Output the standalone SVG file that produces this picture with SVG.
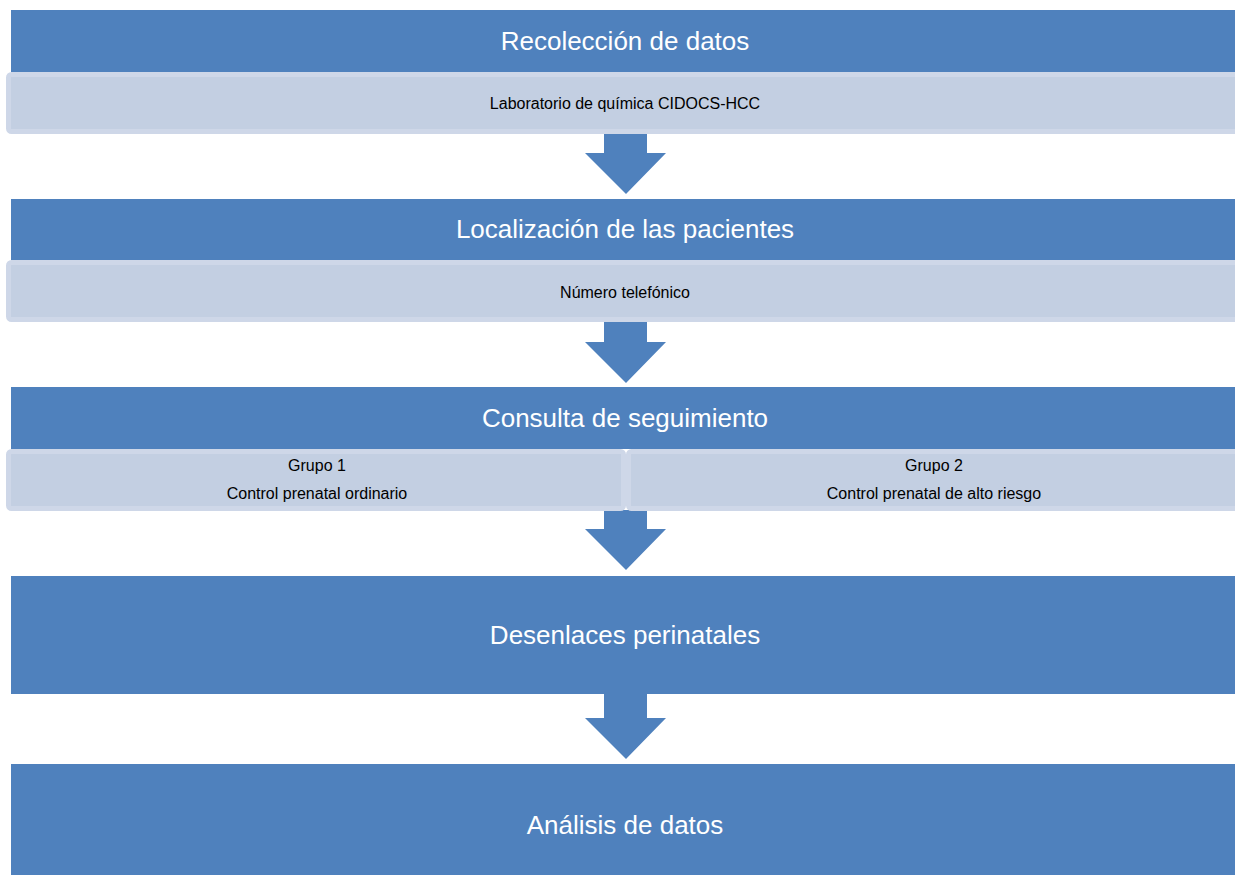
<svg xmlns="http://www.w3.org/2000/svg" width="1235" height="875" viewBox="0 0 1235 875">
<style>
.hdr{fill:#4f81bd;}
.sub{fill:#c3cfe2;stroke:#ced7e8;stroke-width:5;}
.arr{fill:#4f81bd;}
.t1{font-family:"Liberation Sans",Arial,sans-serif;font-size:26px;fill:#ffffff;text-anchor:middle;}
.t2{font-family:"Liberation Sans",Arial,sans-serif;font-size:16px;fill:#000000;text-anchor:middle;}
</style>
<rect width="1235" height="875" fill="#ffffff"/>
<g id="connectors">
<polygon class="arr" points="604,133 647,133 647,153 666,153 626,194 585,153 604,153"/>
<polygon class="arr" points="604,321 647,321 647,342 666,342 626,383 585,342 604,342"/>
<polygon class="arr" points="604,510 647,510 647,529 666,529 626,570 585,529 604,529"/>
<polygon class="arr" points="604,694 647,694 647,718 666,718 626,759 585,718 604,718"/>
</g>
<g id="node-recoleccion">
<rect class="hdr" x="11" y="10" width="1230" height="62"/>
<text class="t1" x="625" y="50">Recolección de datos</text>
</g>
<g id="node-laboratorio">
<rect class="sub" x="8.5" y="74.5" width="1240" height="57" rx="3"/>
<text class="t2" x="625" y="109">Laboratorio de química CIDOCS-HCC</text>
</g>
<g id="node-localizacion">
<rect class="hdr" x="11" y="199" width="1230" height="61"/>
<text class="t1" x="625" y="238">Localización de las pacientes</text>
</g>
<g id="node-telefono">
<rect class="sub" x="8.5" y="262.5" width="1240" height="57" rx="3"/>
<text class="t2" x="625" y="298">Número telefónico</text>
</g>
<g id="node-consulta">
<rect class="hdr" x="11" y="387" width="1230" height="62"/>
<text class="t1" x="625" y="427">Consulta de seguimiento</text>
</g>
<g id="node-grupo1">
<rect class="sub" x="8.5" y="451.5" width="615" height="57" rx="3"/>
<text class="t2" x="317" y="471">Grupo 1</text>
<text class="t2" x="317" y="499">Control prenatal ordinario</text>
</g>
<g id="node-grupo2">
<rect class="sub" x="628.5" y="451.5" width="620" height="57" rx="3"/>
<text class="t2" x="934" y="471">Grupo 2</text>
<text class="t2" x="934" y="499">Control prenatal de alto riesgo</text>
</g>
<g id="node-desenlaces">
<rect class="hdr" x="11" y="576" width="1230" height="118"/>
<text class="t1" x="625" y="644">Desenlaces perinatales</text>
</g>
<g id="node-analisis">
<rect class="hdr" x="11" y="764" width="1230" height="120"/>
<text class="t1" x="625" y="834">Análisis de datos</text>
</g>
</svg>
